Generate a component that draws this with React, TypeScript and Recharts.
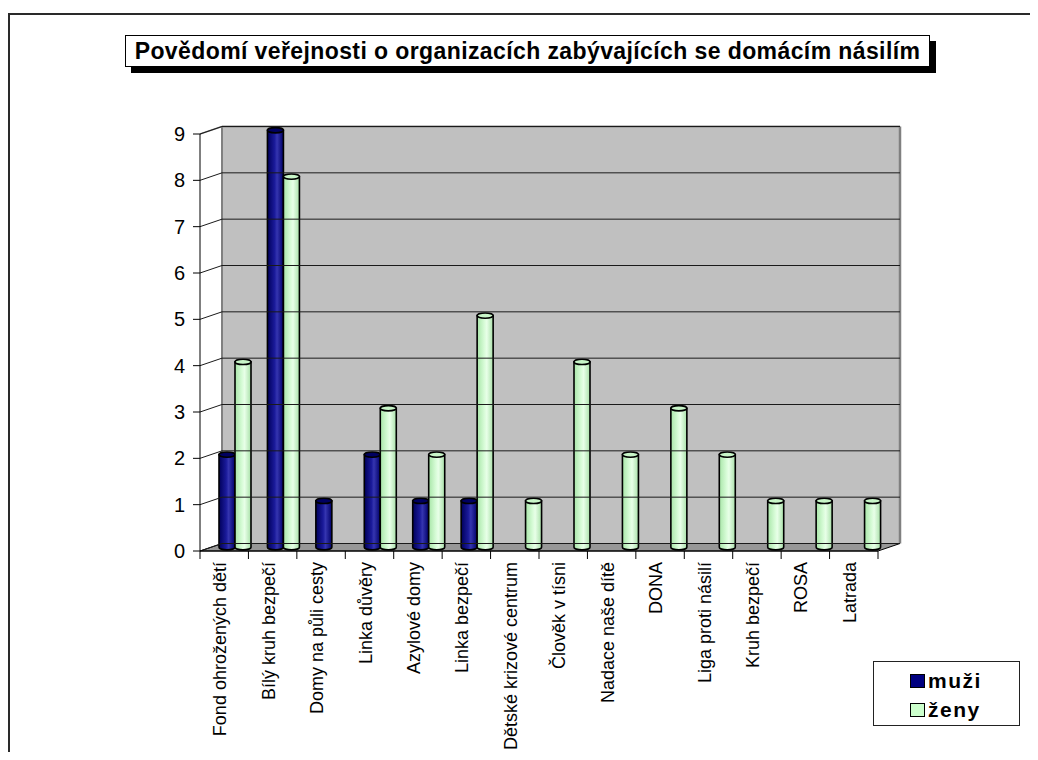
import React from 'react';
import { BarChart, Bar, XAxis, YAxis, ReferenceArea, ReferenceLine, Legend } from 'recharts';

const categories = [
  'Fond ohrožených dětí',
  'Bílý kruh bezpečí',
  'Domy na půli cesty',
  'Linka důvěry',
  'Azylové domy',
  'Linka bezpečí',
  'Dětské krizové centrum',
  'Člověk v tísni',
  'Nadace naše dítě',
  'DONA',
  'Liga proti násilí',
  'Kruh bezpečí',
  'ROSA',
  'Latrada',
];
const menValues = [2, 9, 1, 2, 1, 1, 0, 0, 0, 0, 0, 0, 0, 0];
const womenValues = [4, 8, 0, 3, 2, 5, 1, 4, 2, 3, 2, 1, 1, 1];
const yTicks = [0, 1, 2, 3, 4, 5, 6, 7, 8, 9];
const seriesNames = { muzi: 'muži', zeny: 'ženy' };
const titleText = 'Povědomí veřejnosti o organizacích zabývajících se domácím násilím';

const data = categories.map((name, i) => ({ name, muzi: menValues[i], zeny: womenValues[i] }));

const FONT = '"Liberation Sans", Arial, sans-serif';
const DX = 22; // depth offset
const DY = -7.5;

const W = 1022;
const H = 744;

function WallShape(props: any) {
  const { x, y, width, height } = props;
  const bx = x + DX;
  const by = y + DY;
  const bottom = y + height;
  return (
    <g>
      <rect x={bx} y={by} width={width} height={height} fill="#c0c0c0" stroke="none" />
      <polygon
        points={`${x},${bottom} ${bx},${bottom + DY} ${bx + width},${bottom + DY} ${x + width},${bottom}`}
        fill="#979797"
        stroke="#000"
        strokeWidth={1}
      />
      <line x1={bx} y1={by} x2={bx} y2={bottom + DY} stroke="#808080" strokeWidth={2} />
      <line x1={bx} y1={by} x2={bx + width} y2={by} stroke="#8a8a8a" strokeWidth={2} />
      <line x1={bx + width} y1={by} x2={bx + width} y2={bottom + DY} stroke="#808080" strokeWidth={2.5} />
      <line x1={x} y1={y} x2={bx} y2={by} stroke="#808080" strokeWidth={1.5} />
    </g>
  );
}

function GridLine(props: any) {
  const { x1, y1, x2, y2 } = props;
  if (x1 == null || y1 == null) return null;
  return (
    <g>
      <line x1={x1 + DX} y1={y1 + DY} x2={x2 + DX} y2={y2 + DY} stroke="#1a1a1a" strokeWidth={1} />
      <line x1={x1} y1={y1} x2={x1 + DX} y2={y1 + DY} stroke="#1a1a1a" strokeWidth={1} />
    </g>
  );
}

function makeCylinder(gradId: string, topFill: string) {
  return function Cylinder(props: any) {
    const { x, y, width, height } = props;
    if (!height || height <= 0) return null;
    const X = x + DX / 2;
    const Y = y + DY / 2;
    const rx = width / 2;
    const ry = 2.6;
    const bottom = Y + height;
    return (
      <g>
        <path
          d={`M ${X} ${Y} L ${X} ${bottom} A ${rx} ${ry} 0 0 0 ${X + width} ${bottom} L ${X + width} ${Y} Z`}
          fill={`url(#${gradId})`}
          stroke="#000"
          strokeWidth={1.6}
        />
        <ellipse cx={X + rx} cy={Y} rx={rx} ry={ry} fill={topFill} stroke="#000" strokeWidth={1.6} />
      </g>
    );
  };
}

const BlueCylinder = makeCylinder('gradBlue', '#000060');
const GreenCylinder = makeCylinder('gradGreen', '#c8f5c8');

function XTick(props: any) {
  const { x, y, payload, index } = props;
  const off = payload && payload.offset ? payload.offset : 678 / 14 / 2;
  const axisY = y - 11;
  const tx = x + 2;
  return (
    <g>
      <line x1={x - off} y1={axisY} x2={x - off} y2={axisY + 8} stroke="#000" strokeWidth={1} />
      {index === categories.length - 1 && (
        <line x1={x + off} y1={axisY} x2={x + off} y2={axisY + 8} stroke="#000" strokeWidth={1} />
      )}
      <text
        x={tx}
        y={y}
        transform={`rotate(-90, ${tx}, ${y})`}
        textAnchor="end"
        fontSize={18}
        fontFamily={FONT}
        fill="#000"
      >
        {payload.value}
      </text>
    </g>
  );
}

function LegendContent(props: any) {
  const payload = props.payload || [];
  return (
    <div
      style={{
        position: 'relative',
        width: 147,
        height: 65,
        border: '1px solid #222',
        boxSizing: 'border-box',
        background: '#fff',
        fontFamily: FONT,
        fontWeight: 'bold',
        fontSize: 21,
        letterSpacing: 1.5,
        color: '#000',
      }}
    >
      {payload.map((entry: any, i: number) => (
        <div
          key={i}
          style={{ position: 'absolute', left: 36, top: 7 + i * 29, height: 24, display: 'flex', alignItems: 'center' }}
        >
          <span
            style={{
              display: 'inline-block',
              width: 15,
              height: 14,
              background: entry.dataKey === 'muzi' ? '#000080' : '#ccffcc',
              border: '1.5px solid #000',
              boxSizing: 'border-box',
              marginRight: 3,
            }}
          />
          <span>{entry.value}</span>
        </div>
      ))}
    </div>
  );
}

export default function App() {
  return (
    <div style={{ position: 'relative', width: W, height: H, overflow: 'hidden', background: '#fff' }}>
      <div
        style={{
          position: 'absolute',
          left: 0,
          top: 5,
          width: 1200,
          height: 900,
          borderLeft: '2px solid #2a2a2a',
          borderTop: '2px solid #2a2a2a',
        }}
      />
      <div
        style={{
          position: 'absolute',
          left: 117,
          top: 27,
          width: 805,
          height: 32,
          border: '1px solid #000',
          boxSizing: 'border-box',
          background: '#fff',
          boxShadow: '6px 6px 0 #000',
          fontFamily: FONT,
          fontWeight: 'bold',
          fontSize: 23,
          letterSpacing: 0.4,
          lineHeight: '30px',
          textAlign: 'center',
          whiteSpace: 'nowrap',
          color: '#000',
          zIndex: 2,
        }}
      >
        {titleText}
      </div>
      <BarChart
        width={W}
        height={H}
        data={data}
        margin={{ top: 126, right: 152, bottom: 1, left: 0 }}
        barSize={16}
        barGap={0}
        style={{ position: 'absolute', left: 0, top: 0 }}
      >
        <defs>
          <linearGradient id="gradBlue" x1="0" y1="0" x2="1" y2="0">
            <stop offset="0%" stopColor="#00005a" />
            <stop offset="45%" stopColor="#1a1a9a" />
            <stop offset="60%" stopColor="#3535b0" />
            <stop offset="100%" stopColor="#000068" />
          </linearGradient>
          <linearGradient id="gradGreen" x1="0" y1="0" x2="1" y2="0">
            <stop offset="0%" stopColor="#a8e6a8" />
            <stop offset="45%" stopColor="#d8fcd8" />
            <stop offset="60%" stopColor="#e8ffe8" />
            <stop offset="100%" stopColor="#a8e0a8" />
          </linearGradient>
        </defs>
        <ReferenceArea y1={0} y2={9} shape={<WallShape />} ifOverflow="visible" />
        {yTicks.map((t) => (
          <ReferenceLine key={`g${t}`} y={t} shape={(p: any) => <GridLine {...p} />} ifOverflow="visible" />
        ))}
        <XAxis
          dataKey="name"
          interval={0}
          tickLine={false}
          tickSize={0}
          tickMargin={11}
          height={200}
          axisLine={{ stroke: '#000', strokeWidth: 1 }}
          tick={<XTick />}
        />
        <YAxis
          type="number"
          domain={[0, 9]}
          ticks={yTicks}
          interval={0}
          width={192}
          tickSize={7}
          tickMargin={8}
          axisLine={{ stroke: '#000', strokeWidth: 1 }}
          tickLine={{ stroke: '#000', strokeWidth: 1 }}
          tick={{ fill: '#000', fontSize: 20, fontFamily: FONT }}
        />
        <Legend
          layout="vertical"
          align="center"
          verticalAlign="middle"
          content={<LegendContent />}
          wrapperStyle={{ position: 'absolute', left: 865, top: 653, width: 147, height: 65 }}
        />
        <Bar dataKey="muzi" name={seriesNames.muzi} fill="#000080" shape={<BlueCylinder />} isAnimationActive={false} />
        <Bar dataKey="zeny" name={seriesNames.zeny} fill="#ccffcc" shape={<GreenCylinder />} isAnimationActive={false} />
      </BarChart>
    </div>
  );
}
